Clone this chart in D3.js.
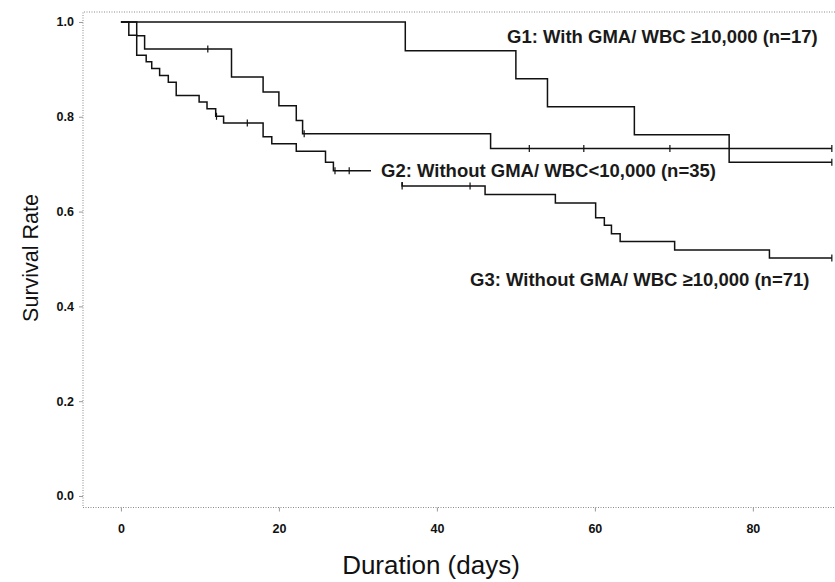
<!DOCTYPE html>
<html>
<head>
<meta charset="utf-8">
<script src="https://cdn.jsdelivr.net/npm/d3@7"></script>
<style>
  body { margin: 0; background: #fff; }
  svg { display: block; font-family: 'Liberation Sans', Arial, sans-serif; }
</style>
</head>
<body>
<div id="chart"></div>
<script>
const xTicks = [0, 20, 40, 60, 80]
const yTicks = [0, 0.2, 0.4, 0.6, 0.8, 1.0]

// Kaplan-Meier steps: day of each drop and survival after it
const g1Days = [0, 36, 50, 54, 65, 77]
const g1Surv = [1, 0.939, 0.880, 0.821, 0.762, 0.704]
const g1Censored = [90]

const g2Days = [0, 2, 3, 14, 18, 20, 22.2, 23, 46.8]
const g2Surv = [1, 0.971, 0.943, 0.884, 0.852, 0.823, 0.792, 0.764, 0.733]
const g2Censored = [11, 23.2, 51.7, 58.6, 69.5, 90]

const g3Days = [0, 1, 2, 3.2, 3.9, 4.9, 6, 7, 9.9, 10.9, 12, 13, 18, 19.1, 22.2, 25.9, 26.9, 35.6, 46.1, 55, 60.1, 61.2, 62.1, 63.2, 70.1, 82.1]
const g3Surv = [1, 0.972, 0.930, 0.916, 0.902, 0.887, 0.873, 0.845, 0.831, 0.817, 0.801, 0.787, 0.758, 0.743, 0.727, 0.704, 0.686, 0.654, 0.636, 0.618, 0.587, 0.571, 0.553, 0.537, 0.519, 0.502]
const g3Censored = [12.1, 16, 27.1, 28.9, 35.6, 44.2, 90]

const labels = [
  'G1: With GMA/ WBC \u226510,000 (n=17)',
  'G2: Without GMA/ WBC<10,000 (n=35)',
  'G3: Without GMA/ WBC \u226510,000 (n=71)'
]

const groups = [
  { days: g1Days, surv: g1Surv, censored: g1Censored, end: 90, label: labels[0], lx: 507, ly: 42.5 },
  { days: g2Days, surv: g2Surv, censored: g2Censored, end: 90, label: labels[1], lx: 381, ly: 177, mask: true },
  { days: g3Days, surv: g3Surv, censored: g3Censored, end: 90, label: labels[2], lx: 470, ly: 286 }
]

const width = 835
const height = 582
const plotLeft = 83, plotRight = 835, plotTop = 12, plotBottom = 507.5

const svg = d3.select('#chart').append('svg').attr('width', width).attr('height', height)
svg.append('rect').attr('width', width).attr('height', height).attr('fill', '#fff')

const x = d3.scaleLinear().domain([-4.8, 90.4]).range([plotLeft, plotRight])
const y = d3.scaleLinear().domain([-0.0243, 1.021]).range([plotBottom, plotTop])

// dotted frame, open on the right
svg.append('path')
  .attr('d', `M${plotRight},${plotTop}H${plotLeft}V${plotBottom}H${plotRight}`)
  .attr('fill', 'none')
  .attr('stroke', '#8a8a8a')
  .attr('stroke-width', 1)
  .attr('stroke-dasharray', '1,1.5')

const xAxis = svg.append('g')
  .attr('transform', `translate(0,${plotBottom})`)
  .call(d3.axisBottom(x).tickValues(xTicks).tickSize(4).tickPadding(13).tickFormat(d3.format('d')))
xAxis.select('.domain').remove()

const yAxis = svg.append('g')
  .attr('transform', `translate(${plotLeft},0)`)
  .call(d3.axisLeft(y).tickValues(yTicks).tickSize(4).tickPadding(5).tickFormat(d3.format('.1f')))
yAxis.select('.domain').remove()

svg.selectAll('.tick line').attr('stroke', '#999')
svg.selectAll('.tick text')
  .attr('font-size', 12.5)
  .attr('font-weight', 'bold')
  .attr('fill', '#111')
  .attr('font-family', "'Liberation Sans', Arial, sans-serif")

const line = d3.line()
  .x(d => x(d[0]))
  .y(d => y(d[1]))
  .curve(d3.curveStepAfter)

const survAt = (g, t) => {
  let s = g.surv[0]
  g.days.forEach((d, i) => { if (d <= t) s = g.surv[i] })
  return s
}

const curves = svg.append('g')
groups.forEach(g => {
  const pts = g.days.map((d, i) => [d, g.surv[i]])
  pts.push([g.end, g.surv[g.surv.length - 1]])

  curves.append('path')
    .attr('d', line(pts))
    .attr('fill', 'none')
    .attr('stroke', '#111')
    .attr('stroke-width', 1.5)

  curves.selectAll(null)
    .data(g.censored)
    .join('line')
    .attr('x1', d => x(d))
    .attr('x2', d => x(d))
    .attr('y1', d => y(survAt(g, d)) - 3.5)
    .attr('y2', d => y(survAt(g, d)) + 3.5)
    .attr('stroke', '#111')
    .attr('stroke-width', 1.2)
})

// group labels; G2 label sits on a white patch over the G3 curve
groups.forEach(g => {
  const lab = svg.append('g')
  const t = lab.append('text')
    .attr('x', g.lx)
    .attr('y', g.ly)
    .attr('font-size', 18.5)
    .attr('font-weight', 'bold')
    .attr('fill', '#1a1a1a')
    .text(g.label)
  if (g.mask) {
    const b = t.node().getBBox()
    lab.insert('rect', 'text')
      .attr('x', b.x - 10)
      .attr('y', b.y - 1)
      .attr('width', b.width + 12)
      .attr('height', b.height + 2)
      .attr('fill', '#fff')
  }
})

svg.append('text')
  .attr('transform', 'translate(38,258) rotate(-90)')
  .attr('text-anchor', 'middle')
  .attr('font-size', 21.5)
  .attr('fill', '#111')
  .text('Survival Rate')

svg.append('text')
  .attr('x', 431)
  .attr('y', 574)
  .attr('text-anchor', 'middle')
  .attr('font-size', 26)
  .attr('fill', '#111')
  .text('Duration (days)')
</script>
</body>
</html>
